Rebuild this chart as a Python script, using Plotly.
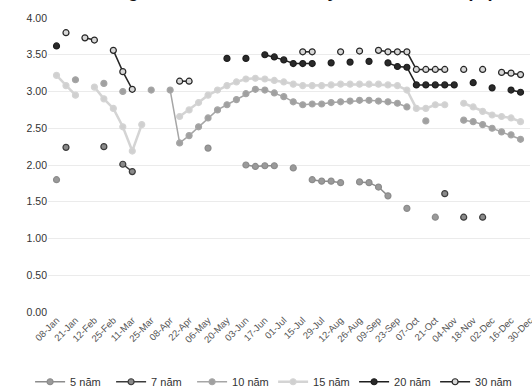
import plotly.graph_objects as go

dates = ["08-Jan","15-Jan","21-Jan","05-Feb","12-Feb","19-Feb","25-Feb","04-Mar","11-Mar","18-Mar",
         "25-Mar","01-Apr","08-Apr","15-Apr","22-Apr","29-Apr","06-May","13-May","20-May","27-May",
         "03-Jun","10-Jun","17-Jun","24-Jun","01-Jul","08-Jul","15-Jul","22-Jul","29-Jul","05-Aug",
         "12-Aug","19-Aug","26-Aug","02-Sep","09-Sep","16-Sep","23-Sep","30-Sep","07-Oct","14-Oct",
         "21-Oct","28-Oct","04-Nov","11-Nov","18-Nov","25-Nov","02-Dec","09-Dec","16-Dec","23-Dec","30-Dec"]
tick_labels = dates[::2]
N = None

y5 = [1.80,N,N,N,N,N,N,N,N,N, N,N,N,N,N,N,2.23,N,N,N, 2.00,1.98,1.99,1.99,N,1.96,N,1.80,1.78,1.78,
      1.76,N,1.77,1.76,1.70,1.58,N,1.41,N,N, 1.29,N,N,N,N,N,N,N,N,N,N]
y7 = [N,2.24,N,N,N,2.25,N,2.01,1.91,N, N,N,N,N,N,N,N,N,N,N, N,N,N,N,N,N,N,N,N,N,
      N,N,N,N,N,N,N,N,N,N, N,1.61,N,1.29,N,1.29,N,N,N,N,N]
y10 = [N,N,3.16,N,N,3.11,N,3.00,N,N, 3.02,N,3.02,2.30,2.40,2.52,2.64,2.75,2.82,2.89,
       2.97,3.03,3.02,2.98,2.93,2.86,2.82,2.83,2.83,2.85, 2.86,2.87,2.88,2.88,2.87,2.86,2.84,2.79,N,2.60,
       N,N,N,2.61,2.59,2.55,2.50,2.45,2.41,2.35,N]
y15 = [3.22,3.08,2.95,N,3.06,2.90,2.77,2.52,2.19,2.55, N,N,N,2.66,2.75,2.85,2.95,3.02,3.08,3.13,
       3.17,3.18,3.17,3.15,3.13,3.10,3.08,3.08,3.08,3.09, 3.10,3.10,3.10,3.10,3.10,3.09,3.08,3.02,2.77,2.77,
       2.82,2.82,N,2.84,2.79,2.73,2.68,2.66,2.64,2.59,N]
y20 = [3.62,N,N,N,N,N,N,N,N,N, N,N,N,N,N,N,N,N,3.45,N, 3.45,N,3.50,3.47,3.43,3.38,3.38,3.38,N,3.39,
       N,3.40,N,3.41,N,3.39,3.34,3.33,3.09,3.09, 3.09,3.09,3.09,N,3.12,N,3.05,N,3.02,2.99,N]
y30 = [N,3.80,N,3.73,3.70,N,3.56,3.27,3.03,N, N,N,N,3.14,3.14,N,N,N,N,N, N,N,N,N,N,N,3.54,3.54,N,N,
       3.54,N,3.55,N,3.56,3.54,3.54,3.54,3.30,3.30, 3.30,3.30,N,3.30,N,3.30,N,3.26,3.25,3.23,N]

series = [
    ("5 năm", y5, "#8c8c8c", "#9a9a9a", 1.5),
    ("7 năm", y7, "#3c3c3c", "#8a8a8a", 1.5),
    ("10 năm", y10, "#a6a6a6", "#a0a0a0", 1.5),
    ("15 năm", y15, "#d4d4d4", "#d0d0d0", 2.5),
    ("20 năm", y20, "#1e1e1e", "#2a2a2a", 1.5),
    ("30 năm", y30, "#262626", "#d8d8d8", 1.5),
]

fig = go.Figure()
for name, vals, lc, fc, w in series:
    fig.add_trace(go.Scatter(
        x=dates, y=vals, name=name, mode="lines+markers",
        line=dict(color=lc, width=w),
        marker=dict(symbol="circle", size=6, color=fc, line=dict(color=lc, width=1.2)),
    ))

fig.add_annotation(
    text="<b>Lợi suất trúng thầu TPCP theo các kỳ hạn năm 2020 (%)</b>",
    xref="paper", yref="paper", x=0.431, y=1.051, xanchor="center", yanchor="bottom",
    showarrow=False, font=dict(size=18, color="#111", family="Liberation Sans, Arial"),
)

fig.update_layout(
    width=532, height=387,
    margin=dict(l=48, r=2, t=18, b=75, autoexpand=False),
    paper_bgcolor="white", plot_bgcolor="white",
    font=dict(family="Liberation Sans, Arial", color="#333", size=10),
    showlegend=True,
    legend=dict(orientation="h", x=0.467, xanchor="center", y=-0.188, yanchor="top",
                font=dict(size=11, color="#333"), itemwidth=30, tracegroupgap=0,
                entrywidth=36, entrywidthmode="pixels",
                bgcolor="rgba(0,0,0,0)"),
)
fig.update_xaxes(
    type="category", categoryorder="array", categoryarray=dates,
    range=[-0.9, 50], tickmode="array", tickvals=tick_labels, ticktext=tick_labels,
    tickangle=-45, tickfont=dict(size=9.5, color="#555"), showgrid=False,
    showline=False, zeroline=False, ticks="",
)
fig.update_yaxes(
    range=[0, 4], dtick=0.5, tickformat=".2f", showgrid=True, gridcolor="#ebebeb", gridwidth=1,
    zeroline=False, showline=False, tickfont=dict(size=10.5, color="#333"), ticks="",
)

fig.write_html("out.html")
